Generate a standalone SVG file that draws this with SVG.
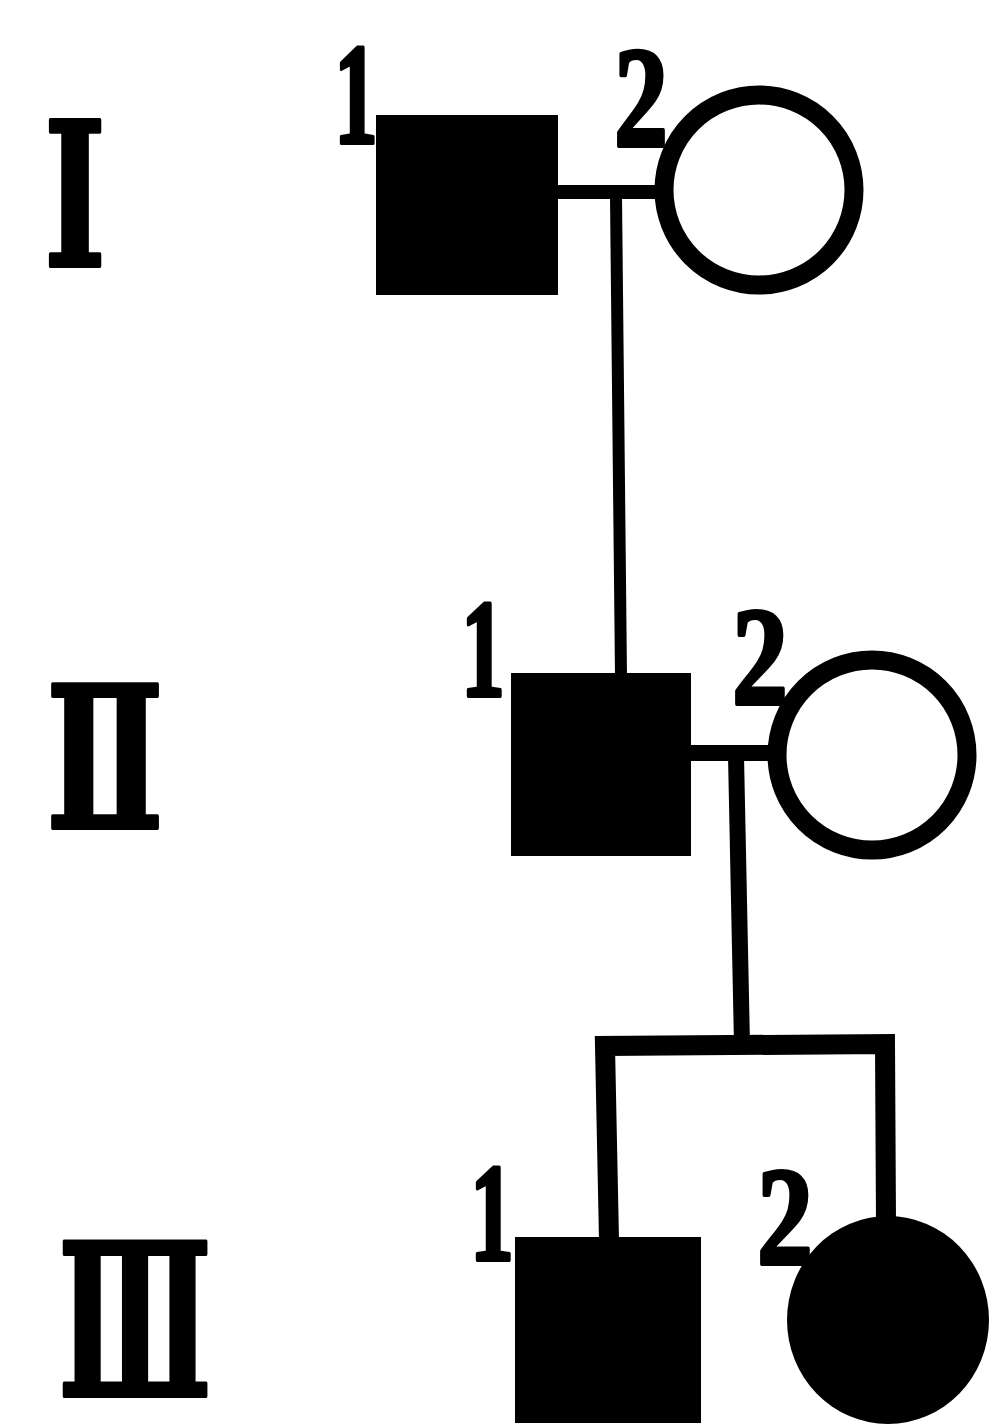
<svg xmlns="http://www.w3.org/2000/svg" width="992" height="1428" viewBox="0 0 992 1428">
<style>
.num{font-family:"Liberation Serif","DejaVu Serif",serif;font-weight:bold;fill:#000;stroke:#000;stroke-width:4;stroke-linejoin:round}
.gen{font-family:"DejaVu Serif","Liberation Serif",serif;font-weight:bold;fill:#000;stroke:#000;stroke-width:4;stroke-linejoin:round}
.aff{fill:#000}
.unaff{fill:#fff;stroke:#000;stroke-width:19}
.ln{stroke:#000;fill:none;stroke-linecap:square}
</style>
<rect width="992" height="1428" fill="#fff"/>
<g id="generations">
<text class="gen" x="44" y="266" font-size="200" textLength="62" lengthAdjust="spacingAndGlyphs">Ⅰ</text>
<text class="gen" x="46" y="828" font-size="196" textLength="118" lengthAdjust="spacingAndGlyphs">Ⅱ</text>
<text class="gen" x="58" y="1396" font-size="212" textLength="154" lengthAdjust="spacingAndGlyphs">Ⅲ</text>
</g>
<g id="connectors">
<line class="ln" x1="557" y1="192" x2="656" y2="192" stroke-width="14"/>
<line class="ln" x1="616" y1="196" x2="621" y2="676" stroke-width="12"/>
<line class="ln" x1="690" y1="753" x2="778" y2="753" stroke-width="16"/>
<line class="ln" x1="736" y1="756" x2="742" y2="1045" stroke-width="16"/>
<path class="ln" d="M609,1240 L605,1046 L885,1044 L886,1222" stroke-width="20" stroke-linejoin="miter"/>
</g>
<g id="I-1">
<rect class="aff" x="376" y="115" width="182" height="180"/>
<text class="num" x="334" y="143" font-size="145" textLength="44" lengthAdjust="spacingAndGlyphs">1</text>
</g>
<g id="I-2">
<circle class="unaff" cx="759" cy="190" r="95"/>
<text class="num" x="614" y="146" font-size="145" textLength="54" lengthAdjust="spacingAndGlyphs">2</text>
</g>
<g id="II-1">
<rect class="aff" x="511" y="673" width="180" height="183"/>
<text class="num" x="461" y="696" font-size="140" textLength="44" lengthAdjust="spacingAndGlyphs">1</text>
</g>
<g id="II-2">
<circle class="unaff" cx="872" cy="755" r="95"/>
<text class="num" x="732" y="704" font-size="140" textLength="56" lengthAdjust="spacingAndGlyphs">2</text>
</g>
<g id="III-1">
<rect class="aff" x="515" y="1237" width="186" height="186"/>
<text class="num" x="470" y="1260" font-size="140" textLength="44" lengthAdjust="spacingAndGlyphs">1</text>
</g>
<g id="III-2">
<ellipse class="aff" cx="888" cy="1320" rx="101" ry="104"/>
<text class="num" x="757" y="1264" font-size="140" textLength="56" lengthAdjust="spacingAndGlyphs">2</text>
</g>
</svg>
